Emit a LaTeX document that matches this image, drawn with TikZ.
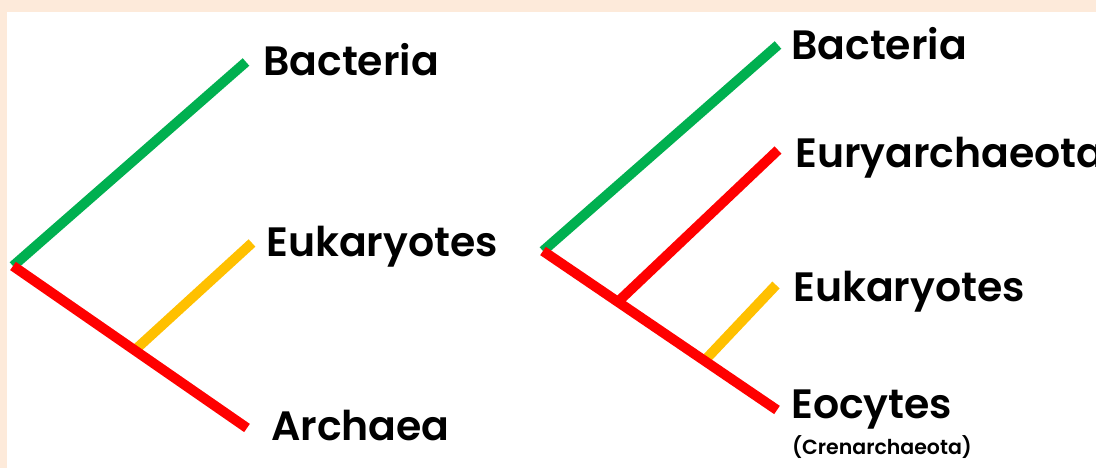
\documentclass[tikz,border=0pt]{standalone}
\usepackage{fontspec}
\setmainfont{Poppins}[BoldFont={Poppins SemiBold}]
\usepackage{tikz}
\usetikzlibrary{positioning}
\definecolor{pagepeach}{HTML}{FDEADA}
\definecolor{bacgreen}{HTML}{00B050}
\definecolor{arcred}{HTML}{FF0000}
\definecolor{eukyellow}{HTML}{FFC000}

\begin{document}
\begin{tikzpicture}[
  x=1pt, y=1pt,
  branch/.style={line width=10pt, line cap=butt},
  taxon/.style={anchor=base west, inner sep=0pt, font=\fontsize{41}{41}\selectfont\bfseries},
  subtaxon/.style={anchor=base west, inner sep=0pt, font=\fontsize{20.5}{20.5}\selectfont\bfseries},
]
  % page frame
  \fill[pagepeach] (0,0) rectangle (1096,468);
  \fill[white] (7,0) rectangle (1096,456);
  \useasboundingbox (0,0) rectangle (1096,468);
  % Left tree: three domains
  \coordinate (rootL) at (13,202);
  \coordinate (bacL)  at (246,406);
  \coordinate (arcL)  at (247,40);
  \coordinate (eukL)  at (252,225);
  \path (rootL) -- (arcL) coordinate[pos=0.52] (jEukL);
  \draw[branch, eukyellow] (jEukL) -- (eukL);
  \draw[branch, bacgreen]  (rootL) -- (bacL);
  \draw[branch, arcred]    (rootL) -- (arcL);
  \node[taxon] (labBacL) at (263,392) {Bacteria};
  \node[taxon] (labEukL) at (266,211) {Eukaryotes};
  \node[taxon] (labArcL) at (271,27)  {Archaea};
  % Right tree: eocyte hypothesis
  \coordinate (rootR) at (543,217);
  \coordinate (bacR)  at (778,423);
  \coordinate (euryR) at (778,318);
  \coordinate (eukR)  at (776,183);
  \coordinate (eocR)  at (777,58);
  \path (rootR) -- (eocR) coordinate[pos=0.32] (jEuryR) coordinate[pos=0.69] (jEukR);
  \draw[branch, eukyellow] (jEukR) -- (eukR);
  \draw[branch, arcred]    (jEuryR) -- (euryR);
  \draw[branch, bacgreen]  (rootR) -- (bacR);
  \draw[branch, arcred]    (rootR) -- (eocR);
  \node[taxon] (labBacR)  at (791,408) {Bacteria};
  \node[taxon] (labEuryR) at (795,300) {Euryarchaeota};
  \node[taxon] (labEukR)  at (793,166) {Eukaryotes};
  \node[taxon] (labEocR)  at (791,49)  {Eocytes};
  \node[subtaxon] (labCreR) at (792,13) {(Crenarchaeota)};
\end{tikzpicture}
\end{document}
